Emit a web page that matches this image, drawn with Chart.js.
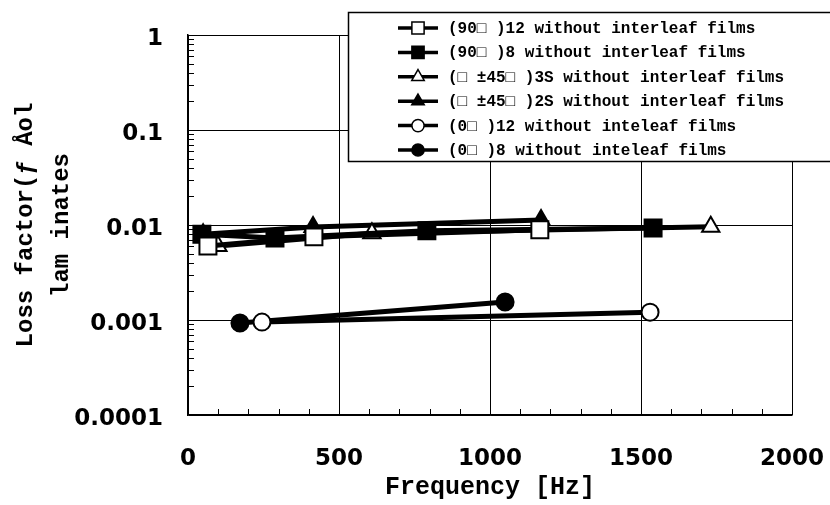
<!DOCTYPE html>
<html>
<head>
<meta charset="utf-8">
<script src="https://cdn.jsdelivr.net/npm/chart.js@4/dist/chart.umd.min.js"></script>
<style>
  html, body { margin: 0; padding: 0; background: #fff; }
  #c { display: block; }
</style>
</head>
<body>
<canvas id="c" width="830" height="505"></canvas>
<script>
// Loss factor of laminates versus frequency, one series per stacking sequence
const seriesLabels = [
  "(90\u25A1 )12 without interleaf films",
  "(90\u25A1 )8 without interleaf films",
  "(\u25A1 \u00B145\u25A1 )3S without interleaf films",
  "(\u25A1 \u00B145\u25A1 )2S without interleaf films",
  "(0\u25A1 )12 without inteleaf films",
  "(0\u25A1 )8 without inteleaf films"
];

const freq90x12 = [66, 417, 1165];
const loss90x12 = [0.0060, 0.0075, 0.0089];

const freq90x8 = [46, 288, 791, 1540];
const loss90x8 = [0.0080, 0.0073, 0.0087, 0.0093];

const freq45x3S = [99, 609, 1731];
const loss45x3S = [0.0060, 0.0082, 0.0096];

const freq45x2S = [50, 414, 1169];
const loss45x2S = [0.0080, 0.0095, 0.0113];

const freq0x12 = [245, 1530];
const loss0x12 = [0.00095, 0.00121];

const freq0x8 = [172, 1050];
const loss0x8 = [0.00093, 0.00155];

const xTickValues = [0, 500, 1000, 1500, 2000];
const yTickValues = [1, 0.1, 0.01, 0.001, 0.0001];
const yTickLabels = ["1", "0.1", "0.01", "0.001", "0.0001"];

const xTitle = "Frequency [Hz]";
const yTitle = ["Loss factor(\u0192 \u00C5ol", "lam inates"];

function pairs(xs, ys) {
  return xs.map((x, i) => ({ x: x, y: ys[i] }));
}

// marker looks: [pointStyle, radius, filled]
const markerLooks = [
  ["rect", 12, false],
  ["rect", 12, true],
  ["triangle", 10, false],
  ["triangle", 10, true],
  ["circle", 8.5, false],
  ["circle", 8.5, true]
];
const seriesData = [
  pairs(freq90x12, loss90x12),
  pairs(freq90x8, loss90x8),
  pairs(freq45x3S, loss45x3S),
  pairs(freq45x2S, loss45x2S),
  pairs(freq0x12, loss0x12),
  pairs(freq0x8, loss0x8)
];

const datasets = seriesData.map((d, i) => ({
  label: seriesLabels[i],
  data: d,
  borderColor: "#000",
  borderWidth: 5,
  pointStyle: markerLooks[i][0],
  pointRadius: markerLooks[i][1],
  pointHoverRadius: markerLooks[i][1],
  pointBackgroundColor: markerLooks[i][2] ? "#000" : "#fff",
  pointBorderColor: "#000",
  pointBorderWidth: 2,
  tension: 0,
  fill: false
}));

// Inward minor tick marks on the left and bottom axes
const minorTicks = {
  id: "minorTicks",
  afterDatasetsDraw(chart) {
    const { ctx, chartArea, scales } = chart;
    ctx.save();
    ctx.strokeStyle = "#000";
    ctx.lineWidth = 1;
    ctx.beginPath();
    for (let v = 100; v < 2000; v += 100) {
      if (v % 500 === 0) continue;
      const px = Math.round(scales.x.getPixelForValue(v)) + 0.5;
      ctx.moveTo(px, chartArea.bottom);
      ctx.lineTo(px, chartArea.bottom - 6);
    }
    for (let e = -4; e < 0; e++) {
      for (let k = 2; k <= 9; k++) {
        const py = Math.round(scales.y.getPixelForValue(k * Math.pow(10, e))) + 0.5;
        ctx.moveTo(chartArea.left, py);
        ctx.lineTo(chartArea.left + 6, py);
      }
    }
    ctx.stroke();
    ctx.restore();
  }
};

// Boxed legend: line with marker, then the series name
const boxLegend = {
  id: "boxLegend",
  afterDraw(chart) {
    const ctx = chart.ctx;
    const box = { left: 348, top: 12, right: 836, bottom: 161 };
    ctx.save();
    ctx.fillStyle = "#fff";
    ctx.fillRect(box.left, box.top, box.right - box.left, box.bottom - box.top);
    ctx.strokeStyle = "#000";
    ctx.lineWidth = 1.5;
    ctx.strokeRect(box.left + 0.5, box.top + 0.5, box.right - box.left, box.bottom - box.top);
    const rowY0 = 28, rowStep = 24.4;
    chart.data.datasets.forEach((ds, i) => {
      const y = rowY0 + i * rowStep;
      ctx.strokeStyle = "#000";
      ctx.lineWidth = 3.5;
      ctx.beginPath();
      ctx.moveTo(398, y);
      ctx.lineTo(438, y);
      ctx.stroke();
      ctx.lineWidth = 1.5;
      ctx.fillStyle = ds.pointBackgroundColor;
      Chart.helpers.drawPoint(ctx, {
        pointStyle: ds.pointStyle,
        rotation: 0,
        radius: ds.pointRadius * 0.72,
        borderWidth: 1.5
      }, 418, y);
      ctx.fillStyle = "#000";
      ctx.font = "bold 16px 'Liberation Mono', monospace";
      ctx.textBaseline = "middle";
      ctx.textAlign = "left";
      ctx.fillText(ds.label, 448, y + 1);
    });
    ctx.restore();
  }
};

new Chart(document.getElementById("c"), {
  type: "line",
  data: { datasets: datasets },
  plugins: [minorTicks, boxLegend],
  options: {
    responsive: false,
    animation: false,
    events: [],
    layout: { padding: { left: 0, top: 35, right: 38, bottom: 0 } },
    plugins: {
      legend: { display: false },
      tooltip: { enabled: false }
    },
    scales: {
      x: {
        type: "linear",
        min: 0,
        max: 2000,
        afterBuildTicks(scale) {
          scale.ticks = xTickValues.map(v => ({ value: v }));
        },
        afterFit(scale) {
          scale.height = 90;
          scale.paddingLeft = 0;
          scale.paddingRight = 0;
        },
        ticks: {
          color: "#000",
          padding: 30,
          maxRotation: 0,
          font: { family: "'DejaVu Sans', sans-serif", weight: "bold", size: 23 },
          callback: v => String(v)
        },
        grid: { color: "#000", lineWidth: 1, drawTicks: false },
        border: { color: "#000", width: 1.5 },
        title: {
          display: true,
          text: xTitle,
          color: "#000",
          font: { family: "'Liberation Mono', monospace", weight: "bold", size: 25, lineHeight: 1.2 },
          padding: { top: 0, bottom: 2 }
        }
      },
      y: {
        type: "logarithmic",
        min: 0.0001,
        max: 1,
        afterBuildTicks(scale) {
          scale.ticks = yTickValues.map(v => ({ value: v }));
        },
        afterFit(scale) {
          scale.width = 188;
          scale.paddingTop = 0;
          scale.paddingBottom = 0;
        },
        ticks: {
          color: "#000",
          padding: 25,
          labelOffset: 4,
          font: { family: "'DejaVu Sans', sans-serif", weight: "bold", size: 23 },
          callback: v => {
            const i = yTickValues.findIndex(t => Math.abs(Math.log10(t) - Math.log10(v)) < 1e-6);
            return i >= 0 ? yTickLabels[i] : "";
          }
        },
        grid: { color: "#000", lineWidth: 1, drawTicks: false },
        border: { color: "#000", width: 1.5 },
        title: {
          display: true,
          text: yTitle,
          color: "#000",
          font: { family: "'Liberation Mono', monospace", weight: "bold", size: 24, lineHeight: 1.5 },
          padding: { top: 8, bottom: 0 }
        }
      }
    }
  }
});
</script>
</body>
</html>
